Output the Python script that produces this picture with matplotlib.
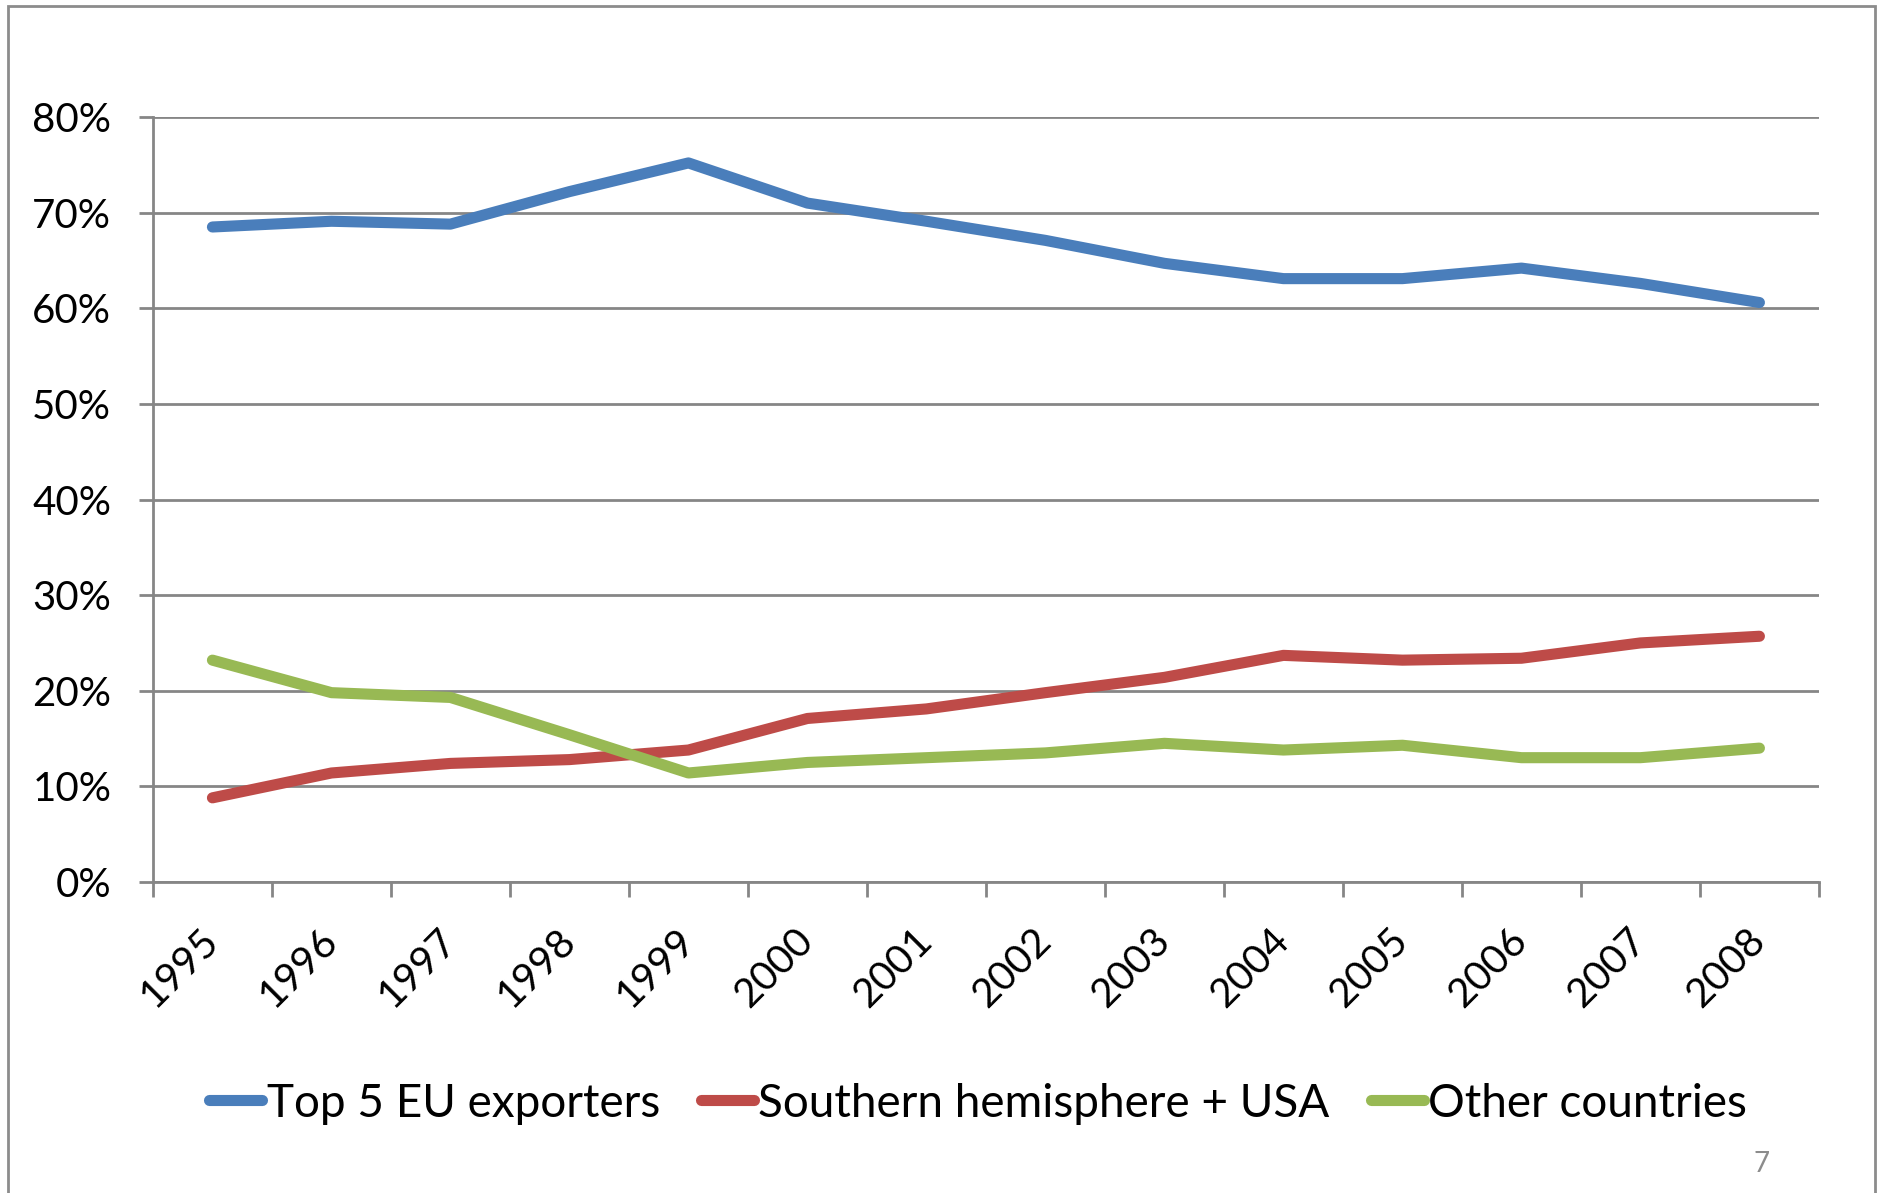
import matplotlib.pyplot as plt
from matplotlib.patches import Rectangle
from matplotlib.ticker import PercentFormatter, FixedLocator

plt.rcParams['font.family'] = ['Lato', 'DejaVu Sans']

years = ['1995', '1996', '1997', '1998', '1999', '2000', '2001',
         '2002', '2003', '2004', '2005', '2006', '2007', '2008']
top5_eu = [68.5, 69.1, 68.8, 72.2, 75.2, 71.0, 69.1,
           67.1, 64.7, 63.1, 63.1, 64.2, 62.6, 60.6]
south_usa = [8.8, 11.4, 12.4, 12.8, 13.8, 17.1, 18.1,
             19.8, 21.4, 23.7, 23.2, 23.4, 25.0, 25.7]
other = [23.2, 19.8, 19.3, 15.4, 11.4, 12.5, 13.0,
         13.5, 14.5, 13.8, 14.3, 13.0, 13.0, 14.0]

labels = ['Top 5 EU exporters', 'Southern hemisphere + USA', 'Other countries']
colors = ['#4A7EBB', '#BE4B48', '#98B954']
grey = '#868686'

fig = plt.figure(figsize=(18.81, 11.93), dpi=100)
ax = fig.add_axes([0.0813, 0.2607, 0.8857, 0.6412])

x = range(len(years))
for vals, lab, col in zip([top5_eu, south_usa, other], labels, colors):
    ax.plot(x, vals, color=col, lw=8, label=lab, solid_capstyle='round',
            solid_joinstyle='round')

ax.set_xlim(-0.5, len(years) - 0.5)
ax.set_ylim(0, 80)
ax.set_yticks(range(0, 81, 10))
ax.yaxis.set_major_formatter(PercentFormatter(decimals=0))
ax.grid(axis='y', color=grey, lw=2)
ax.set_axisbelow(True)

ax.set_xticks(list(x))
ax.set_xticklabels(years, rotation=45, ha='right', va='center',
                   rotation_mode='anchor', fontsize=29)
ax.xaxis.set_minor_locator(FixedLocator([i - 0.5 for i in range(len(years) + 1)]))
ax.tick_params(axis='x', which='major', length=0, pad=38)
ax.tick_params(axis='x', which='minor', length=11, width=2, color=grey)
ax.tick_params(axis='y', length=10, width=2, color=grey, labelsize=29, pad=20)

for s in ['top', 'right']:
    ax.spines[s].set_visible(False)
for s in ['left', 'bottom']:
    ax.spines[s].set_color(grey)
    ax.spines[s].set_linewidth(2)

leg = fig.legend(loc='center', bbox_to_anchor=(0.52, 0.075), ncol=3, frameon=False,
                 fontsize=33, handlelength=1.15, handletextpad=0.1, columnspacing=0.9)

# outer frame of the slide chart
fig.patches.append(Rectangle((0.0045, -0.05), 0.9925, 1.045, transform=fig.transFigure,
                             fill=False, edgecolor='#8c8c8c', lw=2))
fig.text(0.9365, 0.013, '7', color='#8c8c8c', fontsize=20, ha='center', va='bottom')

fig.savefig('out.png', dpi=100)
